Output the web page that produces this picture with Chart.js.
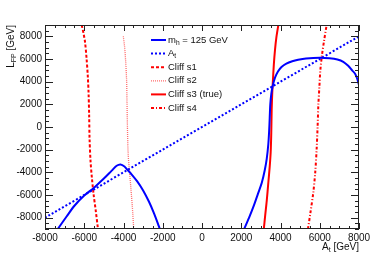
<!DOCTYPE html>
<html>
<head>
<meta charset="utf-8">
<script src="https://cdn.jsdelivr.net/npm/chart.js@4/dist/chart.umd.min.js"></script>
<style>
  html, body { margin: 0; padding: 0; background: #fff; }
  #wrap { width: 374px; height: 255px; }
</style>
</head>
<body>
<div id="wrap"><canvas id="cliffChart"></canvas></div>
<script>
// axis ranges and tick labels
const xTicks = [-8000, -6000, -4000, -2000, 0, 2000, 4000, 6000, 8000];
const yTicks = [-8000, -6000, -4000, -2000, 0, 2000, 4000, 6000, 8000];
const xRange = [-8000, 8000];
const yRange = [-9000, 9000];

// m_h = 125 GeV contour, two branches [A_t, L_FP]
const mhLeft = [[-7350, -9000], [-6900, -7900], [-6500, -6950], [-6000, -6050], [-5500, -5350],
  [-5000, -4550], [-4600, -3850], [-4350, -3420], [-4150, -3300], [-3950, -3480], [-3800, -3780],
  [-3600, -4150], [-3300, -4800], [-3000, -5600], [-2700, -6600], [-2450, -7600], [-2200, -8750], [-2150, -9000]];
const mhRight = [[2150, -9000], [2400, -8000], [2650, -6900], [2850, -5900], [3050, -4900], [3200, -3800],
  [3300, -2800], [3380, -1500], [3420, -400], [3450, 800], [3480, 2000], [3530, 2900], [3600, 3600],
  [3720, 4350], [3870, 4900], [4050, 5300], [4300, 5600], [4600, 5800], [4900, 5930], [5300, 6040],
  [6000, 6110], [6500, 6060], [6900, 5950], [7200, 5750], [7450, 5400], [7650, 5000], [7800, 4700],
  [7900, 4300], [8000, 3700]];
// A_t line
const atLine = [[-8000, -8000], [8000, 8000]];
// cliff curves
const cliffS1 = [[-6130, 9000], [-6030, 8200], [-5960, 7500], [-5880, 6000], [-5820, 4500], [-5780, 3000],
  [-5750, 1000], [-5730, -1000], [-5680, -3000], [-5610, -4500], [-5520, -6000], [-5420, -7300], [-5300, -9000]];
const cliffS2 = [[-4010, 8000], [-3940, 7000], [-3880, 5500], [-3840, 4000], [-3820, 2000], [-3800, 0],
  [-3760, -2500], [-3690, -4000], [-3610, -5700], [-3540, -7300], [-3480, -9000]];
const cliffS3 = [[3150, -9000], [3220, -7800], [3300, -6500], [3380, -4900], [3450, -3500], [3500, -2200],
  [3530, -500], [3550, 1500], [3580, 3000], [3610, 4000], [3660, 5500], [3720, 6800], [3790, 7900], [3890, 9000]];
const cliffS4 = [[5400, -9000], [5530, -7500], [5670, -5800], [5770, -4000], [5840, -2000], [5890, 0],
  [5930, 2000], [5980, 3500], [6030, 5000], [6110, 6300], [6220, 7600], [6350, 9000]];

const FONT = '"Liberation Sans", Arial, Helvetica, sans-serif';
const BLUE = '#0000ff';
const RED = '#ff0000';

function pts(arr) {
  return arr.map(p => ({ x: p[0], y: p[1] }));
}

function line(label, data, color, width, dash, legend) {
  return {
    label: label,
    data: pts(data),
    showLine: true,
    borderColor: color,
    backgroundColor: color,
    borderWidth: width,
    borderDash: dash,
    pointRadius: 0,
    tension: 0.3,
    fill: false,
    legendParts: legend
  };
}

const datasets = [
  line('m_h = 125 GeV', mhLeft, BLUE, 2, [], [{ t: 'm' }, { t: 'h', sub: true }, { t: ' = 125 GeV' }]),
  line('', mhRight, BLUE, 2, [], null),
  line('A_t', atLine, BLUE, 2, [2, 2], [{ t: 'A' }, { t: 't', sub: true }]),
  line('Cliff s1', cliffS1, RED, 2, [3, 2], [{ t: 'Cliff s1' }]),
  line('Cliff s2', cliffS2, 'rgba(255,70,70,0.8)', 1.3, [1, 1], [{ t: 'Cliff s2' }]),
  line('Cliff s3 (true)', cliffS3, RED, 2, [], [{ t: 'Cliff s3 (true)' }]),
  line('Cliff s4', cliffS4, RED, 2, [3, 2, 1, 2], [{ t: 'Cliff s4' }])
];

// text with subscripts, drawn left to right from x
function richWidth(ctx, parts, size) {
  let w = 0;
  parts.forEach(p => {
    ctx.font = (p.sub ? size * 0.7 : size) + 'px ' + FONT;
    w += ctx.measureText(p.t).width;
  });
  return w;
}
function drawRich(ctx, parts, x, y, size) {
  parts.forEach(p => {
    const s = p.sub ? size * 0.7 : size;
    ctx.font = s + 'px ' + FONT;
    ctx.fillText(p.t, x, p.sub ? y + size * 0.3 : y);
    x += ctx.measureText(p.t).width;
  });
}

const rootFrame = {
  id: 'rootFrame',
  afterDatasetsDraw(chart) {
    const ctx = chart.ctx;
    const a = chart.chartArea;
    const xs = chart.scales.x, ys = chart.scales.y;
    ctx.save();
    ctx.strokeStyle = '#222';
    ctx.lineWidth = 1;
    ctx.setLineDash([]);
    ctx.strokeRect(a.left + 0.5, a.top + 0.5, a.right - a.left - 1, a.bottom - a.top - 1);
    ctx.beginPath();
    for (let v = xRange[0]; v <= xRange[1]; v += 500) {
      const px = Math.round(xs.getPixelForValue(v)) + 0.5;
      const len = (v % 2000 === 0) ? 6 : 3;
      ctx.moveTo(px, a.bottom); ctx.lineTo(px, a.bottom - len);
      ctx.moveTo(px, a.top); ctx.lineTo(px, a.top + len);
    }
    for (let v = yRange[0]; v <= yRange[1]; v += 500) {
      const py = Math.round(ys.getPixelForValue(v)) + 0.5;
      const len = (v % 2000 === 0) ? 8 : 4;
      ctx.moveTo(a.left, py); ctx.lineTo(a.left + len, py);
      ctx.moveTo(a.right, py); ctx.lineTo(a.right - len, py);
    }
    ctx.stroke();

    // legend
    ctx.fillStyle = '#111';
    ctx.textBaseline = 'middle';
    let row = 0;
    chart.data.datasets.forEach(ds => {
      if (!ds.legendParts) return;
      const y = 40 + row * 13.6;
      ctx.strokeStyle = ds.borderColor;
      ctx.lineWidth = ds.borderWidth;
      ctx.setLineDash(ds.borderDash);
      ctx.beginPath();
      ctx.moveTo(151, y); ctx.lineTo(166, y);
      ctx.stroke();
      ctx.setLineDash([]);
      drawRich(ctx, ds.legendParts, 168, y, 9.5);
      row++;
    });

    // axis titles
    const xt = [{ t: 'A' }, { t: 't', sub: true }, { t: ' [GeV]' }];
    drawRich(ctx, xt, a.right - richWidth(ctx, xt, 10), 247, 10);
    const yt = [{ t: 'L' }, { t: 'FP', sub: true }, { t: ' [GeV]' }];
    ctx.translate(11, a.top);
    ctx.rotate(-Math.PI / 2);
    drawRich(ctx, yt, -richWidth(ctx, yt, 10), 0, 10);
    ctx.restore();
  }
};

new Chart(document.getElementById('cliffChart').getContext('2d'), {
  type: 'scatter',
  data: { datasets: datasets },
  options: {
    responsive: true,
    maintainAspectRatio: false,
    animation: false,
    layout: { padding: { top: 25, right: 15, left: 0, bottom: 0 } },
    plugins: {
      legend: { display: false },
      tooltip: { enabled: false }
    },
    scales: {
      x: {
        type: 'linear',
        min: xRange[0],
        max: xRange[1],
        afterBuildTicks: s => { s.ticks = xTicks.map(v => ({ value: v })); },
        afterFit: s => { s.height = 26; },
        grid: { display: false, drawTicks: false },
        border: { display: false },
        ticks: {
          color: '#111', font: { family: FONT, size: 10 }, padding: 3, maxRotation: 0, autoSkip: false,
          callback: v => String(v)
        }
      },
      y: {
        type: 'linear',
        min: yRange[0],
        max: yRange[1],
        afterBuildTicks: s => { s.ticks = yTicks.map(v => ({ value: v })); },
        afterFit: s => { s.width = 45; },
        grid: { display: false, drawTicks: false },
        border: { display: false },
        ticks: {
          color: '#111', font: { family: FONT, size: 10 }, padding: 3, autoSkip: false,
          callback: v => String(v)
        }
      }
    }
  },
  plugins: [rootFrame]
});
</script>
</body>
</html>
